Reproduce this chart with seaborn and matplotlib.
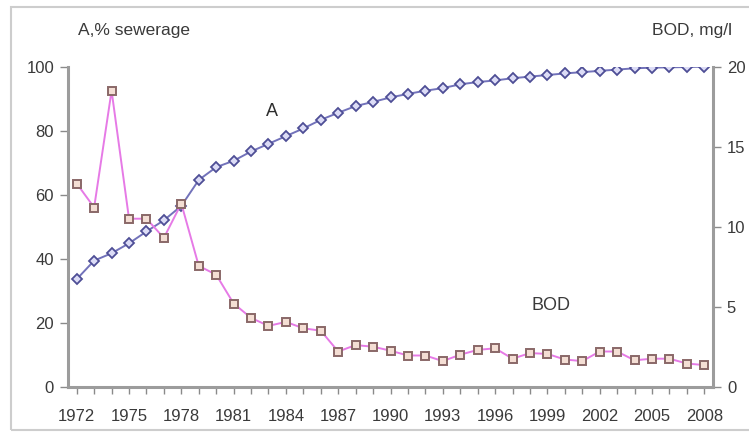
import matplotlib
matplotlib.use("Agg")
import matplotlib.pyplot as plt
import seaborn as sns
from matplotlib.patches import Rectangle
from matplotlib.ticker import MultipleLocator, FixedLocator

# Share of population connected to sewerage (%) and river BOD (mg/l)
years = list(range(1972, 2009))
sewerage_pct = [33.6, 39.4, 41.7, 44.8, 48.5, 52.0, 56.5, 64.6, 68.6, 70.6,
                73.5, 75.9, 78.3, 80.7, 83.4, 85.6, 87.7, 89.0, 90.4, 91.5,
                92.5, 93.3, 94.5, 95.2, 95.7, 96.4, 96.9, 97.4, 97.9, 98.3,
                98.7, 99.1, 99.5, 99.7, 99.8, 99.9, 100.0]
bod_mgl = [12.7, 11.2, 18.5, 10.5, 10.5, 9.3, 11.45, 7.55, 7.0, 5.2,
           4.3, 3.8, 4.05, 3.65, 3.5, 2.2, 2.6, 2.5, 2.25, 1.95,
           1.95, 1.6, 2.0, 2.3, 2.4, 1.75, 2.1, 2.05, 1.7, 1.6,
           2.2, 2.2, 1.65, 1.75, 1.75, 1.45, 1.35]
year_labels = [1972, 1975, 1978, 1981, 1984, 1987, 1990, 1993, 1996, 1999, 2002, 2005, 2008]
left_ticks = [0, 20, 40, 60, 80, 100]
right_ticks = [0, 5, 10, 15, 20]

sns.set_theme(style="white")
plt.rcParams['font.family'] = ['Liberation Sans', 'DejaVu Sans']

W, H = 749, 438
fig = plt.figure(figsize=(W / 100, H / 100), dpi=100)
fig.patch.set_facecolor("white")

ax = fig.add_axes([68 / W, 1 - 386.7 / H, 645 / W, 320 / H])
ax2 = ax.twinx()

sns.lineplot(x=years, y=sewerage_pct, ax=ax, color="#7272ba", linewidth=1.4,
             marker="D", markersize=5, markerfacecolor="#dcdcf6",
             markeredgecolor="#4e4e96", markeredgewidth=1.3)
sns.lineplot(x=years, y=bod_mgl, ax=ax2, color="#e67ae6", linewidth=1.4,
             marker="s", markersize=6.2, markerfacecolor="#f4ded4",
             markeredgecolor="#8a6868", markeredgewidth=1.4)

ax.set_xlim(1971.5, 2008.5)
ax.set_ylim(0, 100)
ax2.set_ylim(0, 20)

spine_col = "#9c9c9c"
for a in (ax, ax2):
    for s in a.spines.values():
        s.set_visible(False)
    a.set_xlabel("")
    a.set_ylabel("")
    a.grid(False)
ax.spines["left"].set_visible(True)
ax.spines["bottom"].set_visible(True)
ax2.spines["right"].set_visible(True)
for s in (ax.spines["left"], ax.spines["bottom"], ax2.spines["right"]):
    s.set_color(spine_col)
    s.set_linewidth(2.2)

tick_col = "#8a8a8a"
lab_col = "#3a3a3a"
ax.xaxis.set_major_locator(FixedLocator(year_labels))
ax.xaxis.set_minor_locator(MultipleLocator(1))
ax.set_xticklabels([str(y) for y in year_labels])
ax.tick_params(axis="x", which="both", bottom=True, direction="out", length=5,
               width=1, color=tick_col, labelsize=12, labelcolor=lab_col, pad=11)
ax.set_yticks(left_ticks)
ax.tick_params(axis="y", left=True, direction="out", length=6, width=1,
               color=tick_col, labelsize=12, labelcolor=lab_col, pad=4)
ax2.set_yticks(right_ticks)
ax2.tick_params(axis="y", right=True, direction="out", length=6, width=1,
                color=tick_col, labelsize=12, labelcolor=lab_col, pad=4)

fig.text(78 / W, 1 - 30 / H, "A,% sewerage", fontsize=12.5, color=lab_col,
         ha="left", va="center")
fig.text(732 / W, 1 - 30 / H, "BOD, mg/l", fontsize=12.5, color=lab_col,
         ha="right", va="center")
ax.text(1983.2, 86, "A", fontsize=13, color="#2e2e2e", ha="center", va="center")
ax2.text(1999.2, 5.1, "BOD", fontsize=13, color="#3a3a3a", ha="center", va="center")

fig.patches.append(Rectangle((11 / W, 1 - 430 / H), (W - 11 + 10) / W, 423 / H,
                             transform=fig.transFigure, fill=False,
                             edgecolor="#cdcdcd", linewidth=1.5, clip_on=False))

fig.savefig("out.png", dpi=100)
